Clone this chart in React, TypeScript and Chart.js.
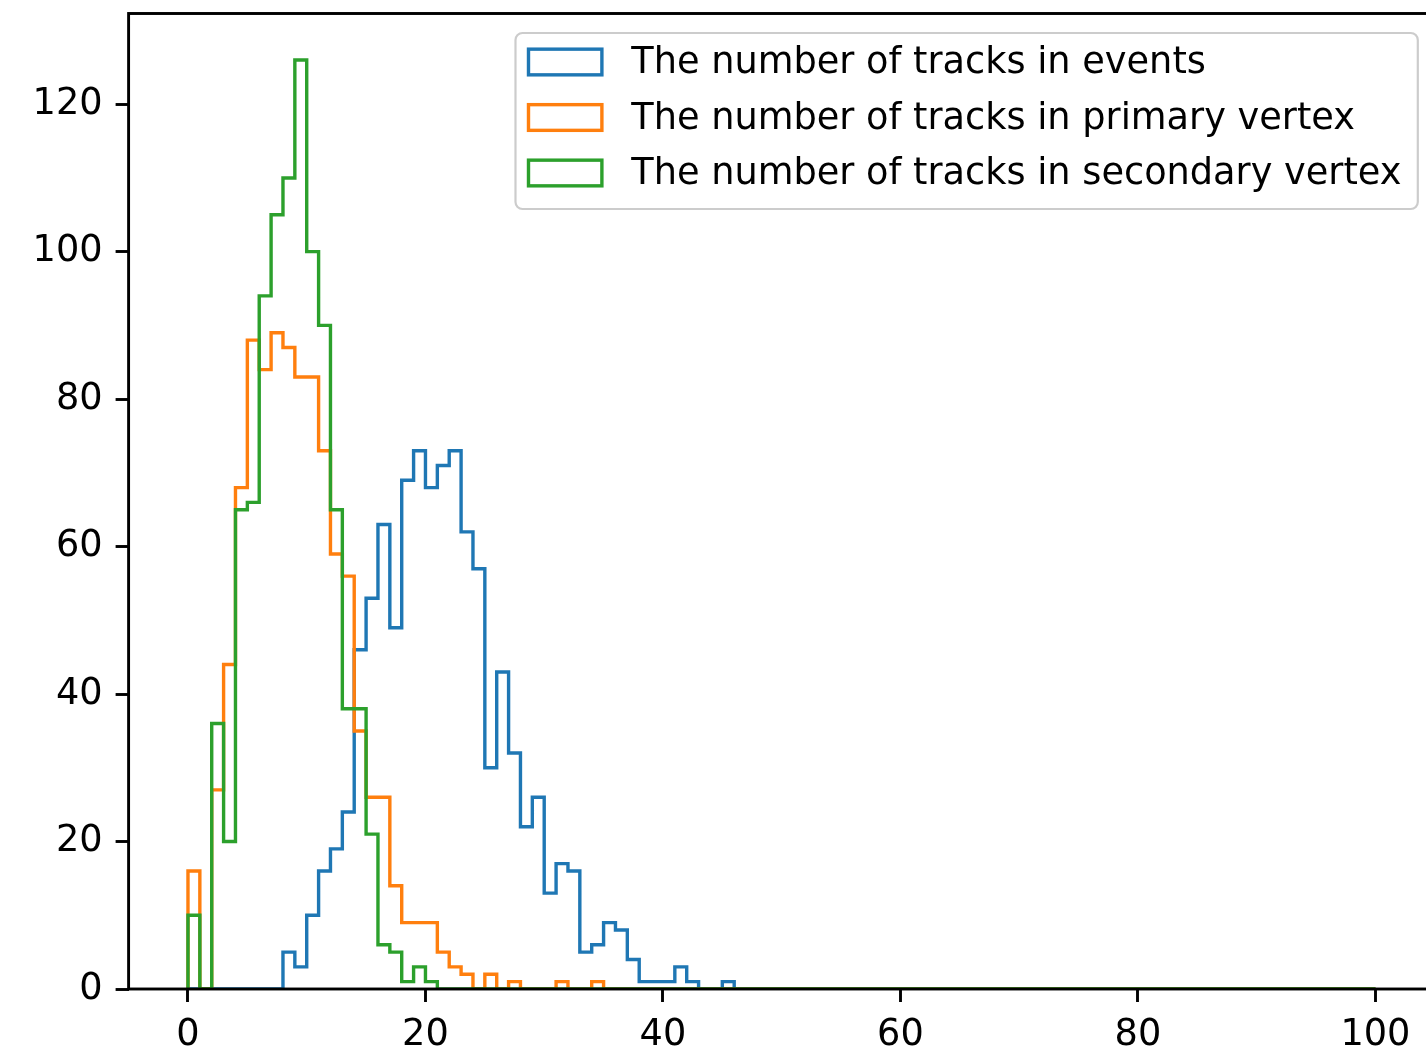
import React, { useEffect, useRef } from "react";
import { Chart, registerables } from "chart.js";

Chart.register(...registerables);

// Histogram binning: 100 unit-wide bins over [0, 100]
const BIN_START = 0;
const BIN_END = 100;
const BIN_COUNT = 100;

// Counts per bin, starting at bin [0, 1); bins past the end of each list are empty
const eventTracks = [
  0, 0, 0, 0, 0, 0, 0, 0, 5, 3, 10, 16, 19, 24, 46, 53, 63, 49, 69, 73, 68, 71, 73, 62, 57,
  30, 43, 32, 22, 26, 13, 17, 16, 5, 6, 9, 8, 4, 1, 1, 1, 3, 1, 0, 0, 1,
];
const primaryVertexTracks = [
  16, 0, 27, 44, 68, 88, 84, 89, 87, 83, 83, 73, 59, 56, 35, 26, 26, 14, 9, 9, 9, 5, 3, 2, 0,
  2, 0, 1, 0, 0, 0, 1, 0, 0, 1,
];
const secondaryVertexTracks = [
  10, 0, 36, 20, 65, 66, 94, 105, 110, 126, 100, 90, 65, 38, 38, 21, 6, 5, 1, 3, 1,
];

const seriesLabels = [
  "The number of tracks in events",
  "The number of tracks in primary vertex",
  "The number of tracks in secondary vertex",
];
const seriesColors = ["#1f77b4", "#ff7f0e", "#2ca02c"];

const xTicks = [0, 20, 40, 60, 80, 100];
const yTicks = [0, 20, 40, 60, 80, 100, 120];
const xRange = [-5, 105];
const yRange = [0, 132.3];

const FONT_PX = 36.7;
const FONT_FAMILY = '"DejaVu Sans", sans-serif';
const LINE_W = 3.4;
const AXIS_W = 2.9;

// Outline of a step histogram: up from the baseline, across every bin, back down
function stepOutline(counts: number[]) {
  const width = (BIN_END - BIN_START) / BIN_COUNT;
  const pts: { x: number; y: number }[] = [{ x: BIN_START, y: 0 }];
  for (let i = 0; i < BIN_COUNT; i++) {
    pts.push({ x: BIN_START + i * width, y: counts[i] ?? 0 });
  }
  pts.push({ x: BIN_END, y: counts[BIN_COUNT - 1] ?? 0 });
  pts.push({ x: BIN_END, y: 0 });
  return pts;
}

const framePlugin = {
  id: "axesFrame",
  afterDatasetsDraw(chart: any) {
    const { ctx, chartArea: a } = chart;
    ctx.save();
    ctx.strokeStyle = "#000";
    ctx.lineWidth = AXIS_W;
    ctx.strokeRect(a.left, a.top, a.right - a.left, a.bottom - a.top);
    ctx.restore();
  },
};

const boxLegendPlugin = {
  id: "boxLegend",
  afterDraw(chart: any) {
    const { ctx, chartArea: a } = chart;
    const datasets = chart.data.datasets;
    ctx.save();
    ctx.font = `${FONT_PX}px ${FONT_FAMILY}`;
    const pad = 0.4 * FONT_PX;
    const handleW = 2.0 * FONT_PX;
    const handleH = 0.7 * FONT_PX;
    const textGap = 0.8 * FONT_PX;
    const rowStep = 55.5;
    let maxText = 0;
    for (const ds of datasets) maxText = Math.max(maxText, ctx.measureText(ds.label).width);
    const boxW = pad + handleW + textGap + maxText + pad;
    const boxH = 176;
    const right = a.right - 17;
    const top = a.top + 19.5;
    const left = right - boxW;

    ctx.beginPath();
    ctx.roundRect(left, top, boxW, boxH, 7);
    ctx.fillStyle = "rgba(255,255,255,0.8)";
    ctx.fill();
    ctx.strokeStyle = "#cccccc";
    ctx.lineWidth = 2.2;
    ctx.stroke();

    datasets.forEach((ds: any, i: number) => {
      const cy = top + 29 + i * rowStep;
      const hx = left + 13;
      ctx.strokeStyle = ds.borderColor;
      ctx.lineWidth = LINE_W;
      ctx.strokeRect(hx, cy - handleH / 2, handleW, handleH);
      ctx.fillStyle = "#000";
      ctx.textBaseline = "alphabetic";
      ctx.textAlign = "left";
      ctx.fillText(ds.label, hx + handleW + textGap, cy + 11);
    });
    ctx.restore();
  },
};

export default function App() {
  const canvasRef = useRef<HTMLCanvasElement | null>(null);

  useEffect(() => {
    const canvas = canvasRef.current;
    if (!canvas) return;
    const seriesCounts = [eventTracks, primaryVertexTracks, secondaryVertexTracks];
    const tickFont = { family: FONT_FAMILY, size: FONT_PX };
    const chart = new Chart(canvas, {
      type: "line",
      data: {
        datasets: seriesCounts.map((counts, i) => ({
          label: seriesLabels[i],
          data: stepOutline(counts),
          borderColor: seriesColors[i],
          backgroundColor: seriesColors[i],
          borderWidth: LINE_W,
          pointRadius: 0,
          pointHoverRadius: 0,
          stepped: "before" as const,
          fill: false,
          tension: 0,
          order: seriesCounts.length - i,
        })),
      },
      options: {
        responsive: false,
        animation: false,
        devicePixelRatio: 1,
        events: [],
        layout: { padding: { top: 13.5, right: 25.2, bottom: 0, left: 0 } },
        plugins: {
          legend: { display: false },
          tooltip: { enabled: false },
        },
        scales: {
          x: {
            type: "linear",
            min: xRange[0],
            max: xRange[1],
            afterBuildTicks: (s: any) => {
              s.ticks = xTicks.map((v) => ({ value: v }));
            },
            afterFit: (s: any) => {
              s.height = 57;
              s.paddingLeft = 0;
              s.paddingRight = 0;
              s.paddingTop = 0;
              s.paddingBottom = 0;
            },
            grid: {
              display: true,
              drawOnChartArea: false,
              drawTicks: true,
              tickLength: 13,
              tickWidth: AXIS_W,
              tickColor: "#000",
            },
            border: { display: false },
            ticks: {
              color: "#000",
              font: tickFont,
              padding: 11,
              maxRotation: 0,
              autoSkip: false,
            },
          },
          y: {
            type: "linear",
            min: yRange[0],
            max: yRange[1],
            afterBuildTicks: (s: any) => {
              s.ticks = yTicks.map((v) => ({ value: v }));
            },
            afterFit: (s: any) => {
              s.width = 128.6;
              s.paddingLeft = 0;
              s.paddingRight = 0;
              s.paddingTop = 0;
              s.paddingBottom = 0;
            },
            grid: {
              display: true,
              drawOnChartArea: false,
              drawTicks: true,
              tickLength: 13,
              tickWidth: AXIS_W,
              tickColor: "#000",
            },
            border: { display: false },
            ticks: {
              color: "#000",
              font: tickFont,
              padding: 13,
              autoSkip: false,
            },
          },
        },
      },
      plugins: [framePlugin, boxLegendPlugin],
    } as any);
    return () => chart.destroy();
  }, []);

  return (
    <div
      style={{
        position: "fixed",
        left: 0,
        top: 0,
        width: "100vw",
        height: "100vh",
        overflow: "hidden",
        background: "#fff",
      }}
    >
      <canvas ref={canvasRef} width={1460} height={1046} style={{ display: "block" }} />
    </div>
  );
}
